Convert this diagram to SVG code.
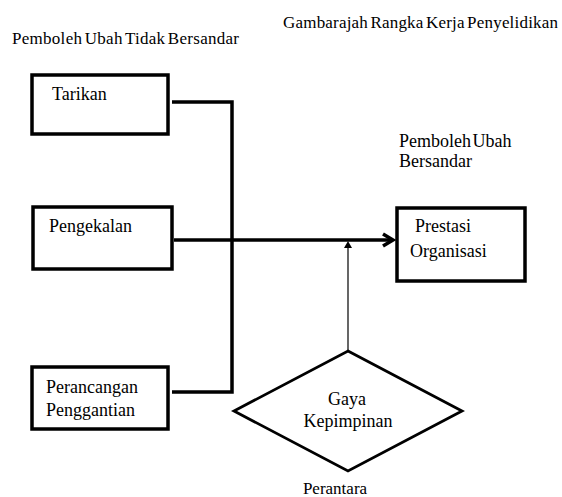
<svg xmlns="http://www.w3.org/2000/svg" width="562" height="497" viewBox="0 0 562 497">
<rect width="562" height="497" fill="#fff"/>
<text x="283" y="28" font-family="Liberation Serif" font-size="17" word-spacing="-2" textLength="275">Gambarajah Rangka Kerja Penyelidikan</text>
<text x="12" y="44" font-family="Liberation Serif" font-size="17" word-spacing="-2" textLength="227">Pemboleh Ubah Tidak Bersandar</text>
<text x="399" y="147" font-family="Liberation Serif" font-size="18" word-spacing="-3">Pemboleh Ubah</text>
<text x="399" y="167" font-family="Liberation Serif" font-size="18">Bersandar</text>
<g id="connectors" fill="none" stroke="#000" stroke-width="3.5">
<path d="M172,102 H232 V392 H172"/>
<path d="M174,240 H392"/>
<path d="M383,234 L393,240 L383,246"/>
<line x1="348" y1="351" x2="348" y2="247" stroke-width="1.2"/>
<path d="M348,241 L352,248 L344,248 Z" fill="#000" stroke="none"/>
</g>
<g id="tarikan">
<rect x="32" y="75" width="136" height="59" fill="#fff" stroke="#000" stroke-width="3.5"/>
<text x="52" y="100" font-family="Liberation Serif" font-size="18">Tarikan</text>
</g>
<g id="pengekalan">
<rect x="33" y="207" width="139" height="62" fill="#fff" stroke="#000" stroke-width="3.5"/>
<text x="49" y="232" font-family="Liberation Serif" font-size="18">Pengekalan</text>
</g>
<g id="perancangan">
<rect x="32" y="367" width="136" height="62" fill="#fff" stroke="#000" stroke-width="3.5"/>
<text x="46" y="393" font-family="Liberation Serif" font-size="18">Perancangan</text>
<text x="46" y="416" font-family="Liberation Serif" font-size="18">Penggantian</text>
</g>
<g id="prestasi">
<rect x="397" y="208" width="128" height="73" fill="#fff" stroke="#000" stroke-width="3.5"/>
<text x="415" y="232" font-family="Liberation Serif" font-size="18">Prestasi</text>
<text x="410" y="257" font-family="Liberation Serif" font-size="18">Organisasi</text>
</g>
<g id="gaya">
<path d="M348,351 L462,411 L348,471 L234,411 Z" fill="#fff" stroke="#000" stroke-width="2.8"/>
<text x="347" y="405" text-anchor="middle" font-family="Liberation Serif" font-size="18">Gaya</text>
<text x="348" y="427" text-anchor="middle" font-family="Liberation Serif" font-size="18">Kepimpinan</text>
</g>
<text x="335" y="494" text-anchor="middle" font-family="Liberation Serif" font-size="17">Perantara</text>
</svg>
